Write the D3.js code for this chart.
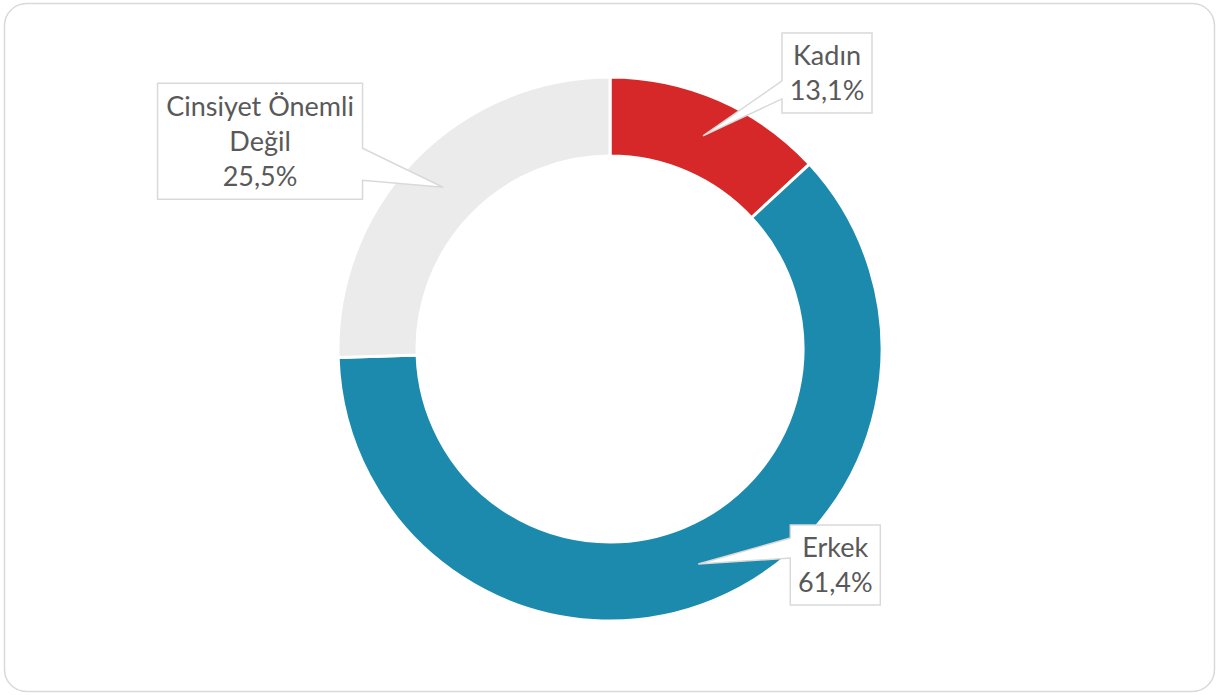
<!DOCTYPE html>
<html>
<head>
<meta charset="utf-8">
<script src="https://cdn.jsdelivr.net/npm/d3@7"></script>
<style>
  body { margin: 0; background: #fff; }
  svg { display: block; }
</style>
</head>
<body>
<svg id="chart"></svg>
<script>
// chart data
const categories = ["Kadın", "Erkek", "Cinsiyet Önemli Değil"];
const values = [13.1, 61.4, 25.5];
const labelLines = [["Kadın", "13,1%"], ["Erkek", "61,4%"], ["Cinsiyet Önemli", "Değil", "25,5%"]];
const colors = ["#D62828", "#1B8AAD", "#EBEBEB"];

const W = 1219, H = 695;
const cx = 610, cy = 349;
const outerR = 272, innerR = 193;

const svg = d3.select("#chart")
	.attr("width", W)
	.attr("height", H);

// outer frame
svg.append("rect")
	.attr("x", 4.5).attr("y", 3.5)
	.attr("width", W - 9).attr("height", H - 7)
	.attr("rx", 22).attr("ry", 22)
	.style("fill", "#fff")
	.style("stroke", "#d9d9d9")
	.style("stroke-width", 1.5);

const pie = d3.pie().sort(null).value(d => d);
const arcs = pie(values);
const arc = d3.arc().innerRadius(innerR).outerRadius(outerR);

const g = svg.append("g").attr("transform", `translate(${cx},${cy})`);

g.selectAll(".slice")
	.data(arcs)
	.enter()
	.append("path")
	.attr("class", "slice")
	.attr("d", arc)
	.style("fill", (d, i) => colors[i])
	.style("stroke", "#fff")
	.style("stroke-width", 3);

// callout boxes: offset of box centre from the slice centroid, box size, pointer side and base span
const callouts = [
	{ dx: 124, dy: -63, w: 90, h: 80, side: "left", b0: 48, b1: 66 },
	{ dx: 137, dy: 1, w: 90, h: 80, side: "left", b0: 13, b1: 33 },
	{ dx: -183, dy: -46, w: 205, h: 116, side: "right", b0: 65, b1: 97 }
];

const fontSize = 27, lineH = 35;

arcs.forEach((d, i) => {
	const c = arc.centroid(d);
	const tip = [cx + c[0], cy + c[1]];
	const co = callouts[i];
	const bx = tip[0] + co.dx - co.w / 2;
	const by = tip[1] + co.dy - co.h / 2;
	const p = d3.path();
	p.moveTo(bx, by);
	p.lineTo(bx + co.w, by);
	if (co.side === "right") {
		p.lineTo(bx + co.w, by + co.b0);
		p.lineTo(tip[0], tip[1]);
		p.lineTo(bx + co.w, by + co.b1);
	}
	p.lineTo(bx + co.w, by + co.h);
	p.lineTo(bx, by + co.h);
	if (co.side === "left") {
		p.lineTo(bx, by + co.b1);
		p.lineTo(tip[0], tip[1]);
		p.lineTo(bx, by + co.b0);
	}
	p.closePath();

	svg.append("path")
		.attr("d", p.toString())
		.style("fill", "#fff")
		.style("stroke", "#d9d9d9")
		.style("stroke-width", 1.5)
		.style("stroke-linejoin", "miter");

	const lines = labelLines[i];
	const midY = by + co.h / 2;
	svg.append("text")
		.attr("text-anchor", "middle")
		.style("font-family", "Lato, 'Open Sans', sans-serif")
		.style("font-size", fontSize + "px")
		.style("fill", "#595959")
		.selectAll("tspan")
		.data(lines)
		.enter()
		.append("tspan")
		.attr("x", bx + co.w / 2)
		.attr("y", (t, j) => midY + (j - (lines.length - 1) / 2) * lineH + fontSize * 0.36)
		.text(t => t);
});
</script>
</body>
</html>
